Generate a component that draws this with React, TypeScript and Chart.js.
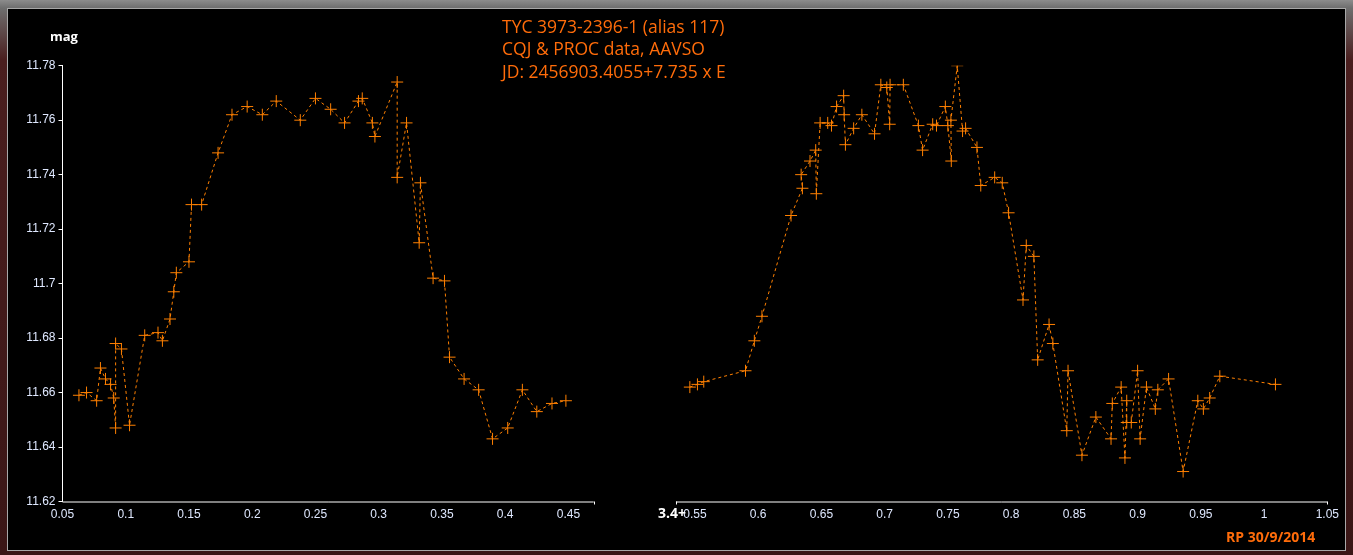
import React, { useEffect, useRef } from "react";
import { Chart, registerables } from "chart.js";

Chart.register(...registerables);

// phase / magnitude, first cycle (left half)
const leftPhase = [
  0.063, 0.069, 0.077, 0.08, 0.084, 0.088, 0.0905, 0.092, 0.092, 0.0966, 0.103, 0.115,
  0.1255, 0.129, 0.135, 0.138, 0.14, 0.15, 0.152, 0.16, 0.173, 0.184, 0.196, 0.208,
  0.219, 0.238, 0.25, 0.262, 0.273, 0.284, 0.287, 0.295, 0.297, 0.3146, 0.3146, 0.322,
  0.332, 0.333, 0.343, 0.352, 0.356, 0.3675, 0.379, 0.39, 0.402, 0.4136, 0.425, 0.437,
  0.448,
];
const leftMag = [
  11.659, 11.66, 11.657, 11.669, 11.665, 11.663, 11.658, 11.647, 11.678, 11.676, 11.648, 11.681,
  11.682, 11.679, 11.687, 11.697, 11.704, 11.708, 11.729, 11.729, 11.748, 11.762, 11.765, 11.762,
  11.767, 11.76, 11.768, 11.764, 11.759, 11.767, 11.768, 11.759, 11.754, 11.774, 11.739, 11.759,
  11.715, 11.737, 11.702, 11.701, 11.673, 11.665, 11.661, 11.643, 11.647, 11.661, 11.653, 11.656,
  11.657,
];

// second cycle (right half, "3.4+")
const rightPhase = [
  0.546, 0.552, 0.557, 0.59, 0.597, 0.603, 0.626, 0.635, 0.634, 0.641, 0.6455, 0.646,
  0.649, 0.655, 0.658, 0.662, 0.6676, 0.668, 0.669, 0.6755, 0.682, 0.692, 0.697, 0.7017,
  0.704, 0.7043, 0.7148, 0.7267, 0.73, 0.738, 0.741, 0.748, 0.75, 0.7527, 0.7524, 0.7574,
  0.7616, 0.764, 0.773, 0.776, 0.787, 0.793, 0.798, 0.8094, 0.812, 0.818, 0.821, 0.83,
  0.833, 0.844, 0.845, 0.856, 0.867, 0.879, 0.88, 0.887, 0.89, 0.8914, 0.8914, 0.895,
  0.9, 0.902, 0.907, 0.914, 0.916, 0.9245, 0.936, 0.9476, 0.952, 0.957, 0.965, 1.009,
];
const rightMag = [
  11.662, 11.663, 11.664, 11.668, 11.679, 11.688, 11.725, 11.735, 11.74, 11.745, 11.749, 11.733,
  11.759, 11.759, 11.758, 11.765, 11.769, 11.762, 11.751, 11.757, 11.762, 11.755, 11.773, 11.772,
  11.7585, 11.773, 11.773, 11.758, 11.749, 11.7585, 11.758, 11.765, 11.758, 11.745, 11.76, 11.78,
  11.756, 11.757, 11.75, 11.736, 11.739, 11.737, 11.726, 11.694, 11.714, 11.71, 11.672, 11.685,
  11.678, 11.646, 11.668, 11.637, 11.651, 11.643, 11.656, 11.662, 11.636, 11.657, 11.649, 11.649,
  11.668, 11.643, 11.662, 11.654, 11.661, 11.665, 11.631, 11.657, 11.654, 11.658, 11.666, 11.663,
];

const titleLines = [
  "TYC 3973-2396-1 (alias 117)",
  "CQJ & PROC data, AAVSO",
  "JD: 2456903.4055+7.735 x E",
];

const ORANGE = "#ff8000";
const TEXT_ORANGE = "#ff6c0a";
const TICK_COLOR = "#dfe8ff";
const TICK_FONT = '"Liberation Sans Narrow", "Liberation Sans", sans-serif';

const W = 1337;
const H = 541;

const fmt = (v: number) => String(parseFloat(v.toFixed(2)));

const toPoints = (xs: number[], ys: number[]) => xs.map((x, i) => ({ x, y: ys[i] }));

// broken x axis, labels and title drawn on top
const decor = {
  id: "decor",
  afterDraw(chart: any) {
    const { ctx, scales } = chart;
    const x = scales.x;
    const y0 = chart.chartArea.bottom;
    ctx.save();
    ctx.strokeStyle = "#ffffff";
    ctx.lineWidth = 1;
    const seg = (a: number, b: number) => {
      ctx.beginPath();
      ctx.moveTo(x.getPixelForValue(a), y0 + 0.5);
      ctx.lineTo(x.getPixelForValue(b), y0 + 0.5);
      ctx.stroke();
    };
    seg(0.05, 0.47);
    seg(0.535, 1.05);
    const tick = (v: number) => {
      const px = Math.round(x.getPixelForValue(v)) + 0.5;
      ctx.beginPath();
      ctx.moveTo(px, y0);
      ctx.lineTo(px, y0 + 3);
      ctx.stroke();
    };
    [0.47, 0.535, 1.05].forEach(tick);

    ctx.fillStyle = "#ffffff";
    ctx.textBaseline = "middle";
    ctx.font = 'bold 13px "Open Sans", sans-serif';
    ctx.textAlign = "left";
    ctx.fillText("mag", 42, 28);
    ctx.font = 'bold 14px "Open Sans", sans-serif';
    ctx.textAlign = "right";
    ctx.fillText("3.4+", 678, 505);

    ctx.fillStyle = TEXT_ORANGE;
    ctx.textAlign = "left";
    ctx.font = '17.5px "Open Sans", sans-serif';
    titleLines.forEach((t, i) => ctx.fillText(t, 494, 19 + i * 22.3));
    ctx.font = 'bold 14px "Open Sans", sans-serif';
    ctx.fillText("RP 30/9/2014", 1218, 529);
    ctx.restore();
  },
};

const LightCurve = () => {
  const chartRef = useRef<HTMLCanvasElement>(null);

  useEffect(() => {
    if (!chartRef.current) return;
    const line = {
      borderColor: ORANGE,
      borderWidth: 1,
      borderDash: [3, 3],
      pointStyle: "cross",
      pointRadius: 6,
      pointBorderWidth: 1,
      pointBorderColor: ORANGE,
      pointBackgroundColor: ORANGE,
      showLine: true,
      tension: 0,
    };
    const chart = new Chart(chartRef.current, {
      type: "scatter",
      data: {
        datasets: [
          { ...line, label: "cycle 1", data: toPoints(leftPhase, leftMag) },
          { ...line, label: "cycle 2", data: toPoints(rightPhase, rightMag) },
        ],
      } as any,
      options: {
        animation: false,
        responsive: false,
        layout: { padding: { top: 56.7, right: 9, left: 0, bottom: 0 } },
        plugins: { legend: { display: false }, tooltip: { enabled: false } },
        scales: {
          x: {
            type: "linear",
            min: 0.05,
            max: 1.05,
            afterFit: (s: any) => {
              s.height = H - 492.5;
            },
            grid: { display: false, drawTicks: false },
            border: { display: false },
            ticks: {
              stepSize: 0.05,
              padding: 6,
              color: TICK_COLOR,
              font: { family: TICK_FONT, size: 12 },
              maxRotation: 0,
              autoSkip: false,
              callback: (v: any) => (Math.abs(v - 0.5) < 1e-6 ? "" : fmt(v)),
            },
          },
          y: {
            min: 11.62,
            max: 11.78,
            afterFit: (s: any) => {
              s.width = 54.5;
            },
            grid: {
              drawOnChartArea: false,
              drawTicks: true,
              tickLength: 4,
              color: "#ffffff",
            },
            border: { display: true, color: "#ffffff", width: 1 },
            ticks: {
              stepSize: 0.02,
              padding: 3,
              color: TICK_COLOR,
              font: { family: TICK_FONT, size: 12 },
              callback: (v: any) => fmt(v),
            },
          },
        },
      } as any,
      plugins: [decor],
    });
    return () => chart.destroy();
  }, []);

  return (
    <div
      style={{
        position: "absolute",
        left: 7,
        top: 8,
        width: W,
        height: H,
        background: "#000",
        border: "1px solid #a8a8a8",
      }}
    >
      <canvas ref={chartRef} width={W} height={H} style={{ display: "block" }} />
    </div>
  );
};

export default function App() {
  return (
    <div
      style={{
        position: "fixed",
        inset: 0,
        background: "linear-gradient(180deg, #8c8c8c 0px, #6e6e6e 8px, #4a1e1e 60px, #3a1616 100%)",
      }}
    >
      <LightCurve />
    </div>
  );
}
